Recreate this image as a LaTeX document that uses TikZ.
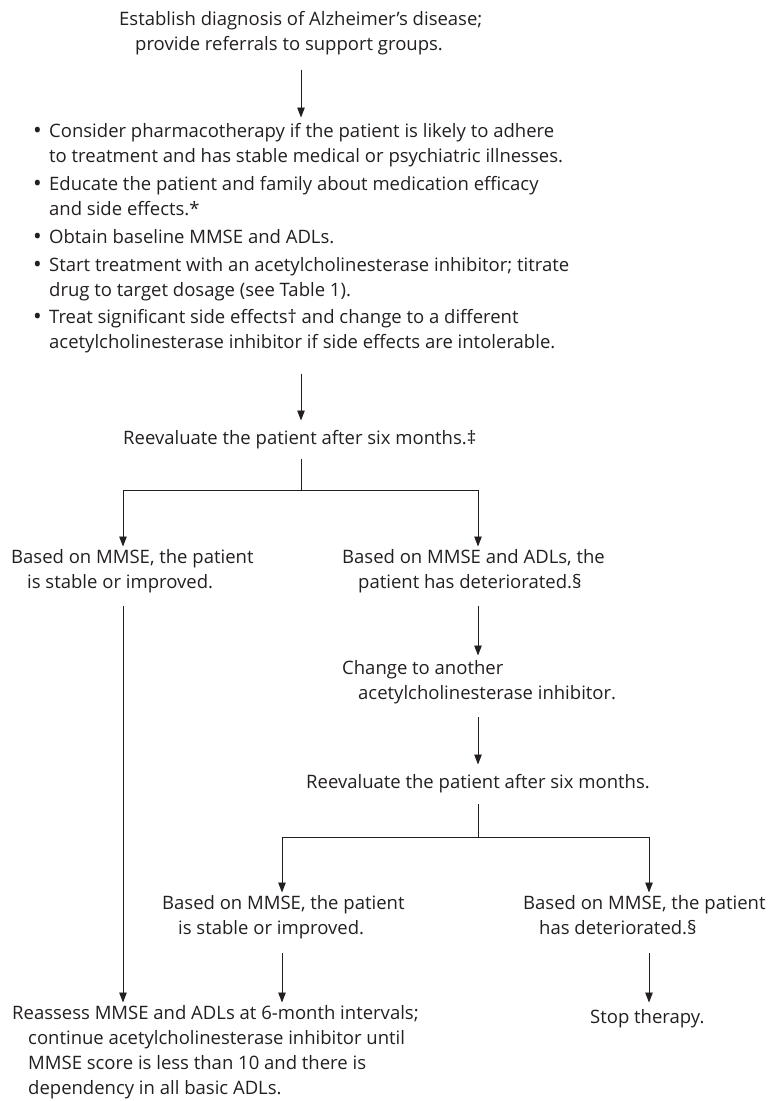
\documentclass[tikz,border=0pt]{standalone}
\usepackage{fontspec}
\setmainfont{Open Sans}
\usetikzlibrary{arrows.meta}
\definecolor{ink}{RGB}{35,31,32}
\newcommand{\lineStrut}{\rule[-7.5pt]{0pt}{25pt}}
\newcommand{\hang}{\hspace*{16pt}}
\newcommand{\bul}{\makebox[14pt][l]{\hspace*{-2pt}\raisebox{-1pt}{\scalebox{1.25}{\textbullet}}}}
\newcommand{\bulhang}{\hspace*{14pt}}

\begin{document}
\begin{tikzpicture}
[x=1pt,y=-1pt,
  textDecorate/.style={anchor=north west,inner sep=0pt,align=left,text=ink,
    font=\fontsize{18.5}{25}\selectfont,
    execute at begin node=\lineStrut,execute at end node=\lineStrut},
  lineDecorate/.style={draw=ink,line width=0.9pt},
  arrowDecorate/.style={lineDecorate,-{Triangle[length=10pt,width=7.5pt]}}]
\useasboundingbox (0,0) rectangle (771,1101);
%% columns of the connectors
\coordinate (spine) at (301,0);
\coordinate (leftcol) at (123,0);
\coordinate (rightcol) at (478,0);
\coordinate (lcol) at (282,0);
\coordinate (rcol) at (649,0);
\coordinate (fork1) at (301,490);
\coordinate (fork2) at (478,837);
%% steps of the algorithm
\node (diag) at (119,11.5) [textDecorate]
  {Establish diagnosis of Alzheimer’s disease;\\
   \hang provide referrals to support groups.};
\node (steps) at (35,123.5) [textDecorate]
  {\bul Consider pharmacotherapy if the patient is likely to adhere\\
   \bulhang to treatment and has stable medical or psychiatric illnesses.\\[2.75pt]
   \bul Educate the patient and family about medication efficacy\\
   \bulhang and side effects.*\\[2.75pt]
   \bul Obtain baseline MMSE and ADLs.\\[2.75pt]
   \bul Start treatment with an acetylcholinesterase inhibitor; titrate\\
   \bulhang drug to target dosage (see Table 1).\\[2.75pt]
   \bul Treat significant side effects† and change to a different\\
   \bulhang acetylcholinesterase inhibitor if side effects are intolerable.};
\node (reeval) at (123,426.5) [textDecorate]
  {Reevaluate the patient after six months.‡};
\node (stable) at (11,549.5) [textDecorate]
  {Based on MMSE, the patient\\ \hang is stable or improved.};
\node (worse) at (342,549.5) [textDecorate]
  {Based on MMSE and ADLs, the\\ \hang patient has deteriorated.§};
\node (change) at (342,660.5) [textDecorate]
  {Change to another\\ \hang acetylcholinesterase inhibitor.};
\node (reeval2) at (306,770.5) [textDecorate]
  {Reevaluate the patient after six months.};
\node (stable2) at (162,895.5) [textDecorate]
  {Based on MMSE, the patient\\ \hang is stable or improved.};
\node (worse2) at (523,895.5) [textDecorate]
  {Based on MMSE, the patient\\ \hang has deteriorated.§};
\node (reassess) at (12,1005.5) [textDecorate]
  {Reassess MMSE and ADLs at 6-month intervals;\\
   \hang continue acetylcholinesterase inhibitor until\\
   \hang MMSE score is less than 10 and there is\\
   \hang dependency in all basic ADLs.};
\node (stop) at (590,1005.5) [textDecorate] {Stop therapy.};
%% straight arrows
\foreach \startnode/\endnode/\col/\gapa/\gapb in {
  diag/steps/spine/11/6, steps/reeval/spine/17/6,
  stable/reassess/leftcol/10/3, worse/change/rightcol/10/5,
  change/reeval2/rightcol/10/6, stable2/reassess/lcol/11/3,
  worse2/stop/rcol/11/3}
{
  \draw[arrowDecorate,shorten <=\gapa pt,shorten >=\gapb pt]
    (\startnode.south -| \col) -- (\endnode.north -| \col);
}
%% forks after each reevaluation
\draw[lineDecorate,shorten <=7pt] (reeval.south -| fork1) -- (fork1);
\draw[arrowDecorate,shorten >=3pt] (fork1) -| (stable.north -| leftcol);
\draw[arrowDecorate,shorten >=3pt] (fork1) -| (worse.north -| rightcol);
\draw[lineDecorate,shorten <=8pt] (reeval2.south -| fork2) -- (fork2);
\draw[arrowDecorate,shorten >=3pt] (fork2) -| (stable2.north -| lcol);
\draw[arrowDecorate,shorten >=3pt] (fork2) -| (worse2.north -| rcol);
\end{tikzpicture}
\end{document}
